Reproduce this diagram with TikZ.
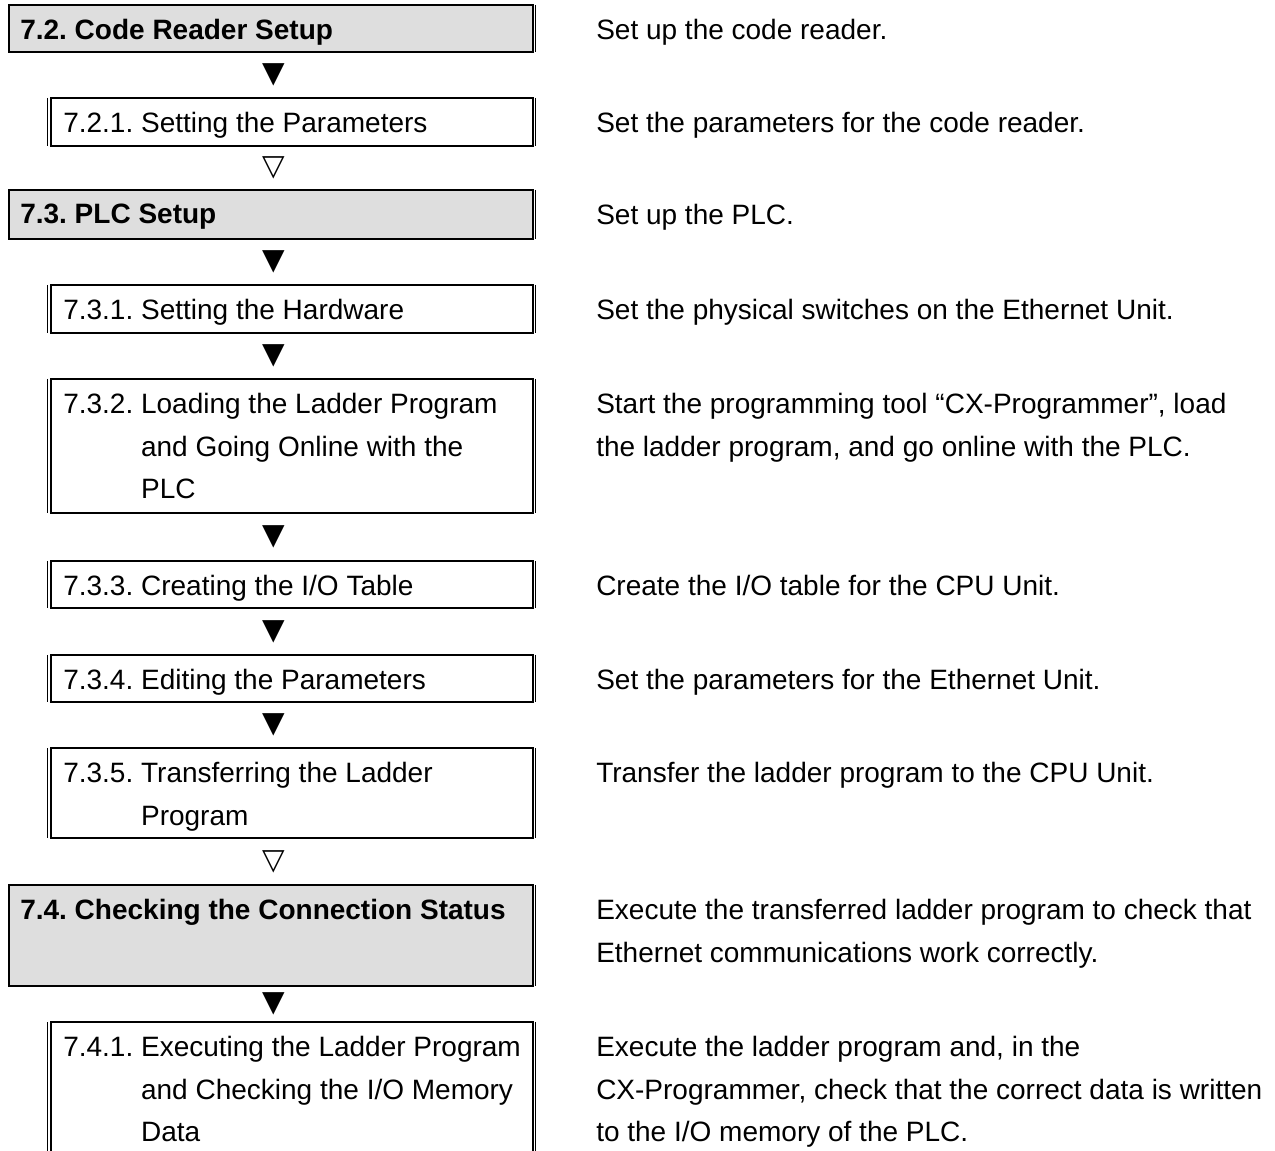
\documentclass[tikz,border=0pt]{standalone}
\usepackage{fontspec}
\setmainfont{Liberation Sans}
\newfontfamily\symfont{DejaVu Sans}
\usetikzlibrary{calc,positioning}
\definecolor{headgray}{RGB}{222,222,222}
\newcommand\steptext{\fontsize{21}{32}\selectfont\frenchspacing}
\newcommand\indentstep{\hphantom{7.3.2.\ }}
\tikzset{
  frame/.style={rectangle, draw, line width=2pt, outer sep=0pt, inner sep=0pt, anchor=north west},
  headbox/.style={frame, fill=headgray, minimum width=393pt},
  stepbox/.style={frame, fill=white, minimum width=361.5pt},
  thinrule/.style={line width=0.6pt},
  boxtext/.style={anchor=north west, inner sep=0pt, align=left, font=\steptext},
  headtext/.style={boxtext, font=\steptext\bfseries},
  note/.style={anchor=north west, inner sep=0pt, align=left, font=\steptext},
  tri/.style={inner sep=0pt, font=\symfont\fontsize{22}{22}\selectfont}
}
\begin{document}
\begin{tikzpicture}[x=0.75pt,y=-0.75pt]
\useasboundingbox (0,0) rectangle (1275,1151);
\clip (0,0) rectangle (1275,1151);
\coordinate (axis) at (274,0);

% boxes of the left column
\node[headbox, minimum height=35.25pt] (b72) at (9,5) {};
\node[stepbox, minimum height=36pt] (b721) at (51,98) {};
\node[headbox, minimum height=36.75pt] (b73) at (9,190) {};
\node[stepbox, minimum height=36pt] (b731) at (51,285) {};
\node[stepbox, minimum height=100.5pt] (b732) at (51,379) {};
\node[stepbox, minimum height=35.25pt] (b733) at (51,561) {};
\node[stepbox, minimum height=35.25pt] (b734) at (51,655) {};
\node[stepbox, minimum height=67.5pt] (b735) at (51,748) {};
\node[headbox, minimum height=75.75pt] (b74) at (9,885) {};
\node[stepbox, minimum height=115pt] (b741) at (51,1022) {};

% second, thin rule beside the frames
\foreach \b in {b72,b73,b74}
  \draw[thinrule] ([xshift=2.1pt]\b.north east) -- ([xshift=2.1pt]\b.south east);
\foreach \b in {b721,b731,b732,b733,b734,b735,b741}{
  \draw[thinrule] ([xshift=2.1pt]\b.north east) -- ([xshift=2.1pt]\b.south east);
  \draw[thinrule] ([xshift=-3pt]\b.north west) -- ([xshift=-3pt]\b.south west);
}

% box texts
\node[headtext] (t72) at ($(b72.north west)+(11,14)$) {7.2. Code Reader Setup};
\node[boxtext] (t721) at ($(b721.north west)+(12,14)$) {7.2.1. Setting the Parameters};
\node[headtext] (t73) at ($(b73.north west)+(11,14)$) {7.3. PLC Setup};
\node[boxtext] (t731) at ($(b731.north west)+(12,14)$) {7.3.1. Setting the Hardware};
\node[boxtext] (t732) at ($(b732.north west)+(12,14)$) {7.3.2. Loading the Ladder Program\\\indentstep and Going Online with the\\\indentstep PLC};
\node[boxtext] (t733) at ($(b733.north west)+(12,14)$) {7.3.3. Creating the I/O Table};
\node[boxtext] (t734) at ($(b734.north west)+(12,14)$) {7.3.4. Editing the Parameters};
\node[boxtext] (t735) at ($(b735.north west)+(12,14)$) {7.3.5. Transferring the Ladder\\\indentstep Program};
\node[headtext] (t74) at ($(b74.north west)+(11,14)$) {7.4. Checking the Connection Status};
\node[boxtext] (t741) at ($(b741.north west)+(12,14)$) {7.4.1. Executing the Ladder Program\\\indentstep and Checking the I/O Memory\\\indentstep Data};

% step markers between the boxes
\foreach \a/\b/\g in {b72/b721/▼, b721/b73/▽, b73/b731/▼, b731/b732/▼, b732/b733/▼,
                     b733/b734/▼, b734/b735/▼, b735/b74/▽, b74/b741/▼}
  \path (\a.south -| axis) -- (\b.north -| axis) node[midway, tri] (m\a) {\g};

% descriptions
\node[note] (n72) at (596,19) {Set up the code reader.};
\node[note] (n721) at (596,112) {Set the parameters for the code reader.};
\node[note] (n73) at (596,204) {Set up the PLC.};
\node[note] (n731) at (596,299) {Set the physical switches on the Ethernet Unit.};
\node[note] (n732) at (596,393) {Start the programming tool “CX-Programmer”, load\\the ladder program, and go online with the PLC.};
\node[note] (n733) at (596,575) {Create the I/O table for the CPU Unit.};
\node[note] (n734) at (596,669) {Set the parameters for the Ethernet Unit.};
\node[note] (n735) at (596,762) {Transfer the ladder program to the CPU Unit.};
\node[note] (n74) at (596,899) {Execute the transferred ladder program to check that\\Ethernet communications work correctly.};
\node[note] (n741) at (596,1036) {Execute the ladder program and, in the\\CX-Programmer, check that the correct data is written\\to the I/O memory of the PLC.};
\end{tikzpicture}
\end{document}
